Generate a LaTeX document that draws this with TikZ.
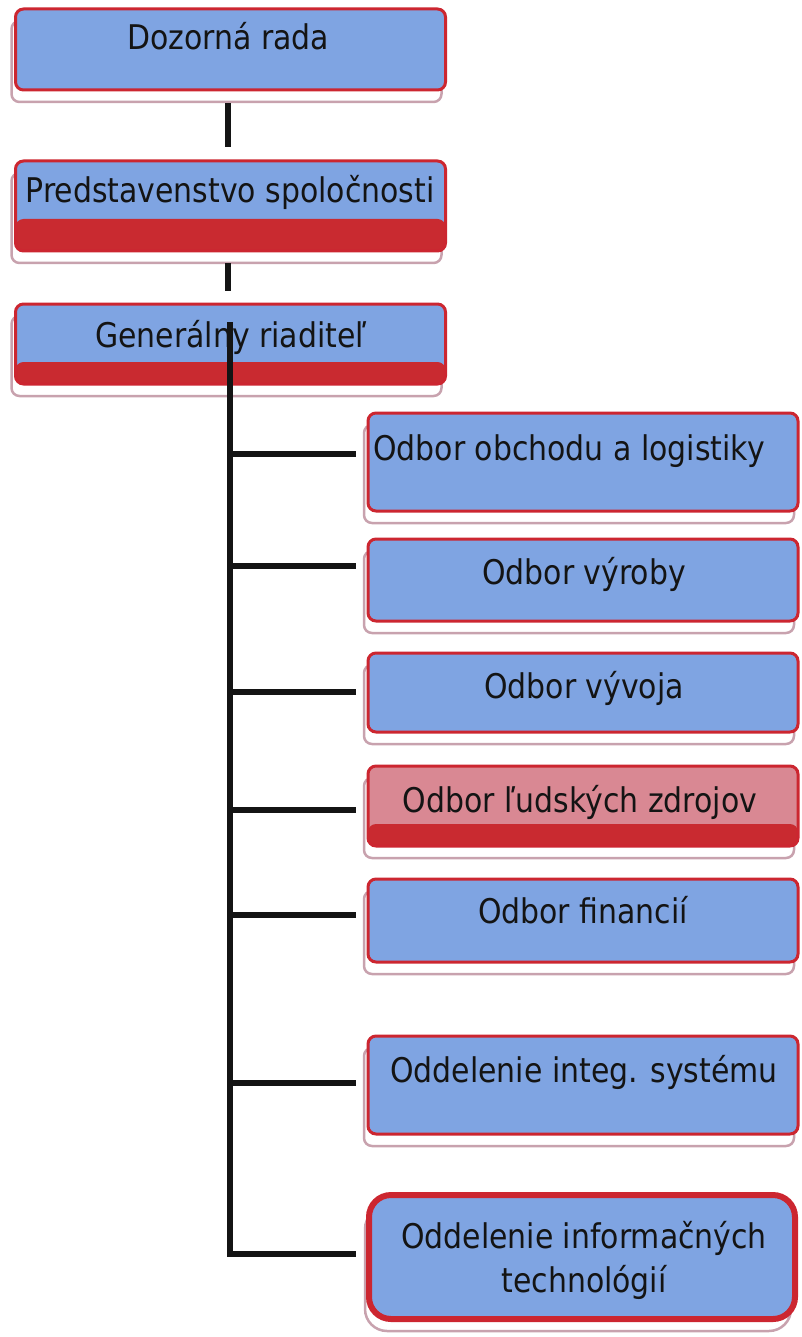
\documentclass[tikz,border=0pt]{standalone}
\usepackage{fontspec}
\setmainfont{DejaVu Sans}[FakeStretch=0.88]
\usetikzlibrary{shadows}
\definecolor{boxblue}{HTML}{7FA4E2}
\definecolor{boxred}{HTML}{CC2630}
\definecolor{bandred}{HTML}{C92A30}
\definecolor{hrpink}{HTML}{D98893}
\definecolor{shadowc}{HTML}{C8A2AE}
\definecolor{inkc}{HTML}{141414}
\begin{document}
\begin{tikzpicture}[x=1pt,y=-1pt,
  orgbox/.style={draw=boxred, line width=3pt, fill=boxblue, rounded corners=8pt,
    minimum width=430pt, inner sep=0pt,
    general shadow={shadow xshift=-4pt, shadow yshift=-12pt, fill=white, draw=shadowc, line width=2.5pt}},
  banded/.style={path picture={\fill[bandred] (path picture bounding box.south west) rectangle ([yshift=#1]path picture bounding box.south east);}},
  orgtext/.style={font=\fontsize{34}{40}\selectfont, text=inkc, anchor=base, inner sep=0pt},
  conn/.style={line width=6.5pt, draw=inkc}]
\useasboundingbox (0,0) rectangle (801,1337);
% left column
\node[orgbox, minimum height=81pt] (dr) at (230.5,49.5) {};
\node[orgbox, minimum height=90pt, banded=32pt] (ps) at (230.5,206) {};
\node[orgbox, minimum height=80pt, banded=22pt] (gr) at (230.5,344) {};
% right column
\node[orgbox, minimum height=98pt] (oa) at (583,462) {};
\node[orgbox, minimum height=82pt] (ob) at (583,580) {};
\node[orgbox, minimum height=79pt] (oc) at (583,692.5) {};
\node[orgbox, minimum height=80pt, fill=hrpink, banded=22pt] (od) at (583,806) {};
\node[orgbox, minimum height=83pt] (oe) at (583,920.5) {};
\node[orgbox, minimum height=98pt] (of) at (583,1085) {};
\node[orgbox, minimum height=124pt, minimum width=426pt, line width=6pt, rounded corners=22pt] (og) at (582,1257) {};
% texts
\node[orgtext] (dr-t) at (228,50) {Dozorná rada};
\node[orgtext] (ps-t) at (230,203) {Predstavenstvo spoločnosti};
\node[orgtext] (gr-t) at (231,347) {Generálny riaditeľ};
\node[orgtext] (oa-t) at (569,460) {Odbor obchodu a logistiky};
\node[orgtext] (ob-t) at (584,584) {Odbor výroby};
\node[orgtext] (oc-t) at (584,698) {Odbor vývoja};
\node[orgtext] (od-t) at (580,812) {Odbor ľudských zdrojov};
\node[orgtext] (oe-t) at (583,923) {Odbor financií};
\node[orgtext] (of-t) at (584,1082) {Oddelenie integ. systému};
\node[orgtext] (og-t1) at (584,1248) {Oddelenie informačných};
\node[orgtext] (og-t2) at (584,1292) {technológií};
% connectors
\draw[conn, shorten <=12pt, shorten >=12pt] ([xshift=-2.5pt]dr.south) -- ([xshift=-2.5pt]ps.north);
\draw[conn, shorten <=11pt, shorten >=11pt] ([xshift=-2.5pt]ps.south) -- ([xshift=-2.5pt]gr.north);
\coordinate (tt) at (230,322);
\coordinate (ba) at (230,454);
\coordinate (bb) at (230,566);
\coordinate (bc) at (230,692);
\coordinate (bd) at (230,810);
\coordinate (be) at (230,915);
\coordinate (bf) at (230,1083);
\coordinate (bg) at (230,1254);
\draw[conn, line join=miter, shorten >=10pt] (tt) -- (bg) -- (bg -| og.west);
\foreach \b/\n in {ba/oa, bb/ob, bc/oc, bd/od, be/oe, bf/of}
  \draw[conn, line width=6pt, shorten >=11pt] (\b) -- (\b -| \n.west);
\end{tikzpicture}
\end{document}
